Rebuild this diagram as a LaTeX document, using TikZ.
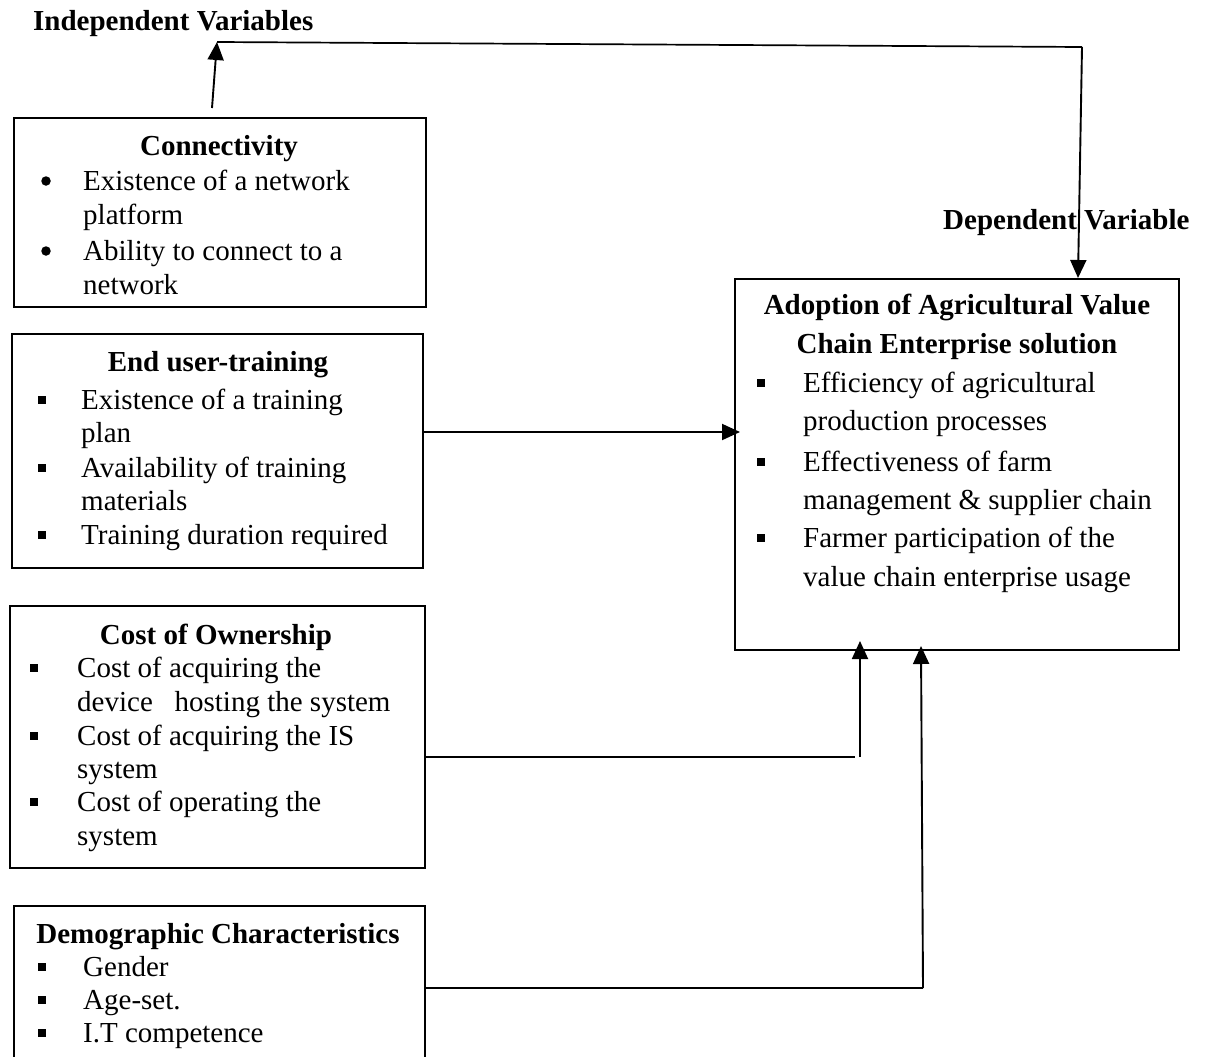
\documentclass[tikz,border=0pt]{standalone}
\usepackage{fontspec}
\setmainfont{Liberation Serif}
\usetikzlibrary{arrows.meta}
\newcommand{\fs}{\fontsize{29}{34}\selectfont}
\tikzset{
  box/.style={draw, line width=1.6pt, anchor=north west, inner sep=0pt},
  txt/.style={anchor=base west, inner sep=0pt, font=\fs},
  ttl/.style={anchor=base, inner sep=0pt, font=\fs\bfseries},
  hdr/.style={anchor=base west, inner sep=0pt, font=\fs\bfseries},
  sq/.style={fill, minimum size=7.5pt, inner sep=0pt, rectangle},
  dot/.style={fill, circle, minimum size=9.5pt, inner sep=0pt},
  conn/.style={line width=1.7pt},
  arr/.style={line width=1.9pt, -{Triangle[length=18pt,width=16pt]}}
}
\begin{document}
\begin{tikzpicture}[x=1pt,y=-1pt]
\clip (0,0) rectangle (1207,1057);
\fill[white] (0,0) rectangle (1207,1057);

% headings
\node[hdr] (indep) at (33,31) {Independent Variables};

% boxes
\node[box, minimum width=412pt, minimum height=189pt] (connbox) at (13,117) {};
\node[box, minimum width=411pt, minimum height=234pt] (trainbox) at (11,333) {};
\node[box, minimum width=415pt, minimum height=262pt] (costbox) at (9,605) {};
\node[box, minimum width=411pt, minimum height=190pt] (demobox) at (13,905) {};
\node[box, minimum width=444pt, minimum height=371pt] (adoptbox) at (734,278) {};

% Connectivity
\node[ttl] (connt) at (219,155) {Connectivity};
\node[dot] (cb1) at (46,181) {};
\node[txt] (cl1) at (83,190) {Existence of a network};
\node[txt] (cl2) at (83,224) {platform};
\node[dot] (cb2) at (46,251) {};
\node[txt] (cl3) at (83,260) {Ability to connect to a};
\node[txt] (cl4) at (83,294) {network};

% End user-training
\node[ttl] (traint) at (218,371) {End user-training};
\node[sq] (tb1) at (42,400) {};
\node[txt] (tl1) at (81,409) {Existence of a training};
\node[txt] (tl2) at (81,442) {plan};
\node[sq] (tb2) at (42,468) {};
\node[txt] (tl3) at (81,477) {Availability of training};
\node[txt] (tl4) at (81,510) {materials};
\node[sq] (tb3) at (42,535) {};
\node[txt] (tl5) at (81,544) {Training duration required};

% Cost of Ownership
\node[ttl] (costt) at (216,644) {Cost of Ownership};
\node[sq] (kb1) at (34,668) {};
\node[txt] (kl1) at (77,677) {Cost of acquiring the};
\node[txt] (kl2) at (77,711) {device\ \ \ hosting the system};
\node[sq] (kb2) at (34,736) {};
\node[txt] (kl3) at (77,745) {Cost of acquiring the IS};
\node[txt] (kl4) at (77,778) {system};
\node[sq] (kb3) at (34,802) {};
\node[txt] (kl5) at (77,811) {Cost of operating the};
\node[txt] (kl6) at (77,845) {system};

% Demographic
\node[ttl] (demot) at (218,943) {Demographic Characteristics};
\node[sq] (db1) at (42,967) {};
\node[txt] (dl1) at (83,976) {Gender};
\node[sq] (db2) at (42,1000) {};
\node[txt] (dl2) at (83,1009) {Age-set.};
\node[sq] (db3) at (42,1033) {};
\node[txt] (dl3) at (83,1042) {I.T competence};

% Adoption
\node[hdr] (dep) at (943,229) {Dependent Variable};
\node[ttl] (adt1) at (957,314) {Adoption of Agricultural Value};
\node[ttl] (adt2) at (957,353) {Chain Enterprise solution};
\node[sq] (ab1) at (761,383) {};
\node[txt] (al1) at (803,392) {Efficiency of agricultural};
\node[txt] (al2) at (803,430) {production processes};
\node[sq] (ab2) at (761,462) {};
\node[txt] (al3) at (803,471) {Effectiveness of farm};
\node[txt] (al4) at (803,509) {management \& supplier chain};
\node[sq] (ab3) at (761,538) {};
\node[txt] (al5) at (803,547) {Farmer participation of the};
\node[txt] (al6) at (803,586) {value chain enterprise usage};

% connector coordinates
\coordinate (p1) at (212,108);
\coordinate (p2) at (217,42);
\coordinate (p3) at (1082,47);
\coordinate (p4) at (1078,278);
\coordinate (q1) at (422,432);
\coordinate (q2) at (740,432);
\coordinate (r1) at (424,757);
\coordinate (r2) at (855,757);
\coordinate (r3) at (860,757);
\coordinate (r4) at (860,641);
\coordinate (s1) at (424,988);
\coordinate (s2) at (923,988);
\coordinate (s3) at (921,646);

% connectors
\draw[arr] (p1) -- (p2);
\draw[conn] (p2) -- (p3);
\draw[arr] (p3) -- (p4);
\draw[arr] (q1) -- (q2);
\draw[conn] (r1) -- (r2);
\draw[arr] (r3) -- (r4);
\draw[conn] (s1) -- (s2);
\draw[arr] (s2) -- (s3);
\end{tikzpicture}
\end{document}
